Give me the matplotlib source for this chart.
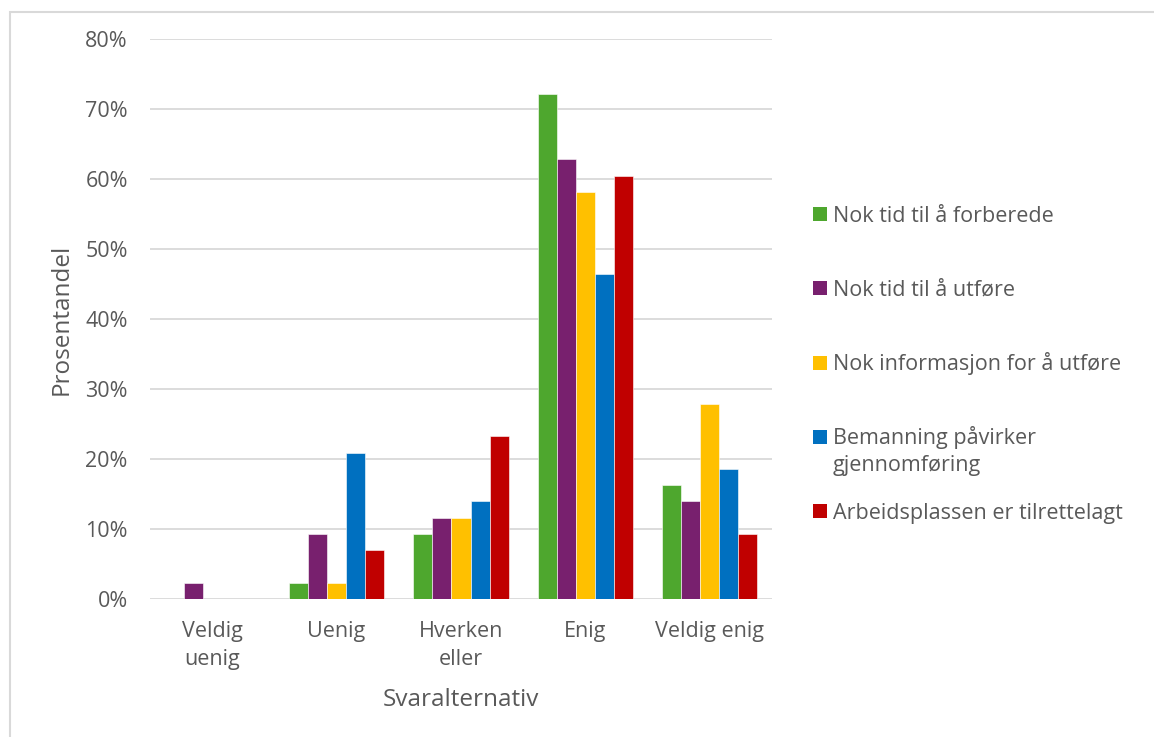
import numpy as np
import matplotlib.pyplot as plt
from matplotlib.patches import Rectangle
from matplotlib.ticker import PercentFormatter

plt.rcParams['font.family'] = ['Open Sans', 'DejaVu Sans']

categories = ["Veldig\nuenig", "Uenig", "Hverken\neller", "Enig", "Veldig enig"]
series_names = [
    "Nok tid til å forberede",
    "Nok tid til å utføre",
    "Nok informasjon for å utføre",
    "Bemanning påvirker\ngjennomføring",
    "Arbeidsplassen er tilrettelagt",
]
colors = ["#4ea72e", "#78206e", "#ffc000", "#0070c0", "#c00000"]

# share of answers (in %) per category, one list per statement
forberede = [0.0, 2.3, 9.3, 72.1, 16.3]
utfore = [2.3, 9.3, 11.6, 62.8, 14.0]
informasjon = [0.0, 2.3, 11.6, 58.1, 27.9]
bemanning = [0.0, 20.9, 14.0, 46.5, 18.6]
arbeidsplass = [0.0, 7.0, 23.3, 60.5, 9.3]
values = [forberede, utfore, informasjon, bemanning, arbeidsplass]

text_color = "#595959"
W, H = 1154, 737

fig = plt.figure(figsize=(W / 100, H / 100), dpi=100)
ax = fig.add_axes([150 / W, 138 / H, 622 / W, 560 / H])

# light frame around the chart area
fig.patches.append(Rectangle((10 / W, -0.05), 1.2, 1.05 - 12 / H,
                             transform=fig.transFigure, fill=False,
                             edgecolor="#d9d9d9", linewidth=1.5))

x = np.arange(len(categories))
w = 0.153
for i, (vals, col) in enumerate(zip(values, colors)):
    offs = (i - 2) * w
    ax.bar(x + offs, np.array(vals) / 100, width=w, color=col,
           edgecolor="white", linewidth=0.4, zorder=3)

ax.set_xlim(-0.5, len(categories) - 0.5)
ax.set_ylim(0, 0.8)
ax.set_yticks(np.arange(0, 0.81, 0.1))
ax.yaxis.set_major_formatter(PercentFormatter(1.0, decimals=0))
ax.set_xticks(x)
ax.set_xticklabels(categories, linespacing=1.4)
ax.tick_params(axis="both", length=0, labelsize=15.5, colors=text_color)
ax.tick_params(axis="y", pad=16)
ax.tick_params(axis="x", pad=16)
ax.grid(axis="y", color="#d9d9d9", linewidth=1.3, zorder=0)
for s in ax.spines.values():
    s.set_visible(False)

ax.set_xlabel("Svaralternativ", fontsize=17.5, color=text_color, labelpad=13)
ax.set_ylabel("Prosentandel", fontsize=17.5, color=text_color, labelpad=8)

# legend drawn as squares and text, one line of text at a time
y0 = 214
step = 74.3
for i, (name, col) in enumerate(zip(series_names, colors)):
    yc = y0 + i * step
    fig.patches.append(Rectangle((813 / W, 1 - (yc + 7) / H), 14 / W, 14 / H,
                                 transform=fig.transFigure, facecolor=col,
                                 edgecolor="none"))
    for k, line in enumerate(name.split("\n")):
        fig.text(833 / W, 1 - (yc + 7.5 + k * 27) / H, line, fontsize=15.5,
                 color=text_color, va="baseline", ha="left")

fig.savefig("out.png", dpi=100)
